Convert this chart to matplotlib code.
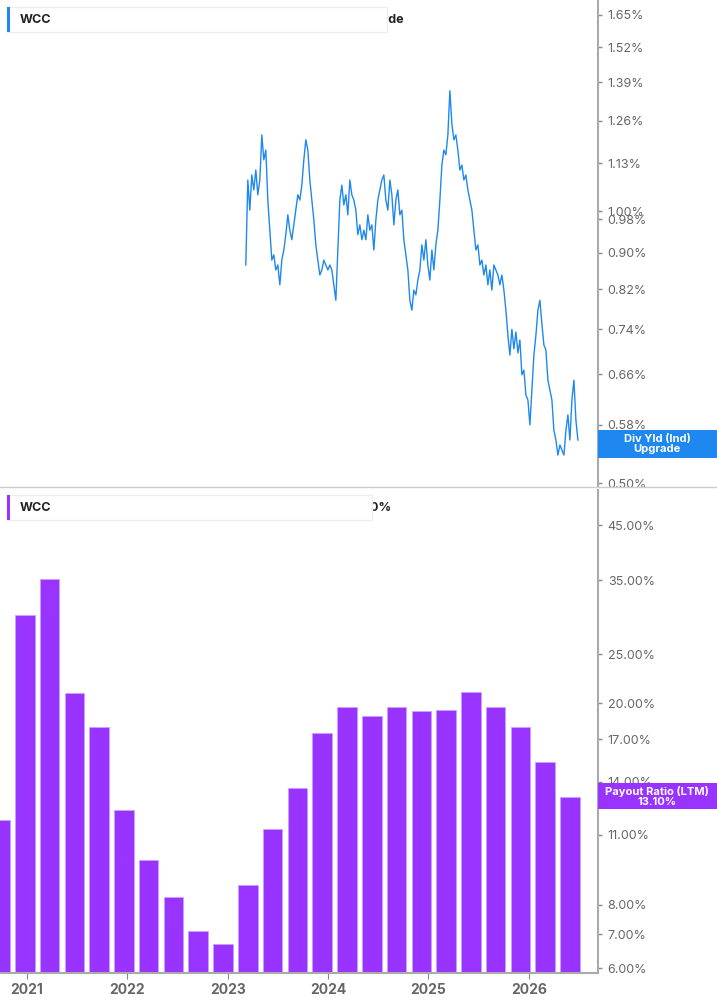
import numpy as np
import matplotlib.pyplot as plt
from matplotlib.ticker import FixedLocator, NullLocator

plt.rcParams['font.family'] = ['Inter', 'DejaVu Sans']

# dividend yield (%), roughly evenly spaced trading samples from 2023.18 to 2026.49
div_start, div_end = 2023.18, 2026.49
div_yield = [
    0.872, 1.083, 1.003, 1.097, 1.056, 1.111, 1.043, 1.083, 1.215, 1.140,
    1.169, 1.029, 0.953, 0.883, 0.895, 0.861, 0.872, 0.829, 0.883, 0.906,
    0.942, 0.991, 0.953, 0.930, 0.966, 1.003, 1.043, 1.029, 1.069, 1.140,
    1.200, 1.169, 1.083, 1.029, 0.978, 0.918, 0.883, 0.850, 0.861, 0.883,
    0.872, 0.861, 0.872, 0.861, 0.829, 0.797, 0.906, 1.029, 1.069, 1.016,
    1.043, 0.991, 1.083, 1.043, 1.029, 1.003, 0.942, 0.966, 0.930, 0.953,
    0.930, 0.991, 0.953, 0.966, 0.906, 0.978, 1.029, 1.056, 1.083, 1.097,
    1.029, 1.003, 1.083, 1.043, 0.966, 1.029, 1.056, 0.991, 1.003, 0.930,
    0.895, 0.861, 0.797, 0.777, 0.818, 0.808, 0.839, 0.861, 0.918, 0.883,
    0.930, 0.872, 0.839, 0.906, 0.861, 0.918, 0.953, 1.029, 1.125, 1.169,
    1.155, 1.215, 1.360, 1.250, 1.200, 1.215, 1.169, 1.111, 1.125, 1.083,
    1.097, 1.056, 1.029, 1.003, 0.953, 0.906, 0.918, 0.872, 0.883, 0.850,
    0.872, 0.829, 0.861, 0.818, 0.872, 0.861, 0.850, 0.829, 0.850, 0.818,
    0.777, 0.729, 0.693, 0.740, 0.704, 0.735, 0.697, 0.720, 0.659, 0.667,
    0.626, 0.618, 0.580, 0.634, 0.693, 0.729, 0.777, 0.797, 0.750, 0.711,
    0.702, 0.650, 0.634, 0.618, 0.572, 0.558, 0.537, 0.551, 0.544, 0.537,
    0.572, 0.595, 0.558, 0.618, 0.650, 0.587, 0.558,
]

# payout ratio (LTM, %), quarterly
payout_x = [2020.73 + 0.247 * i for i in range(24)]
payout = [11.8, 29.9, 35.3, 21.0, 18.0, 12.3, 9.8, 8.3, 7.1, 6.7, 8.75, 11.3,
          13.6, 17.5, 19.7, 18.9, 19.7, 19.3, 19.4, 21.1, 19.7, 18.0, 15.3, 13.1]

years = [2021, 2022, 2023, 2024, 2025, 2026]
top_ticks = [0.50, 0.58, 0.66, 0.74, 0.82, 0.90, 0.98, 1.00, 1.13, 1.26, 1.39, 1.52, 1.65]
bot_ticks = [6, 7, 8, 11, 14, 17, 20, 25, 35, 45]

blue = '#1e88f0'
purple = '#9933ff'
grey = '#666666'

fig = plt.figure(figsize=(7.17, 10.05), dpi=100)
ax1 = fig.add_axes([0, 0.5154, 0.834, 0.4846])
ax2 = fig.add_axes([0, 0.0318, 0.834, 0.4806])

xlim = (2020.73, 2026.69)


def style(ax, ticks):
    ax.set_yscale('log')
    ax.yaxis.tick_right()
    ax.yaxis.set_major_locator(FixedLocator(ticks))
    ax.yaxis.set_minor_locator(NullLocator())
    ax.set_yticklabels(['%.2f%%' % t for t in ticks])
    ax.tick_params(axis='y', length=3, width=1, colors='#888888', labelcolor=grey, labelsize=9, pad=4)
    for s in ['top', 'left', 'bottom']:
        ax.spines[s].set_visible(False)
    ax.spines['right'].set_color('#aaaaaa')
    ax.spines['right'].set_linewidth(1.5)
    ax.set_xlim(*xlim)


dx = np.linspace(div_start, div_end, len(div_yield))
ax1.plot(dx, div_yield, color=blue, linewidth=1)
style(ax1, top_ticks)
ax1.set_ylim(0.495, 1.714)
ax1.set_xticks([])

ax2.bar(payout_x, payout, width=0.195, color=purple, edgecolor='#c9a0ff', linewidth=0.6)
style(ax2, bot_ticks)
ax2.set_ylim(5.87, 52.8)
ax2.spines['bottom'].set_visible(True)
ax2.spines['bottom'].set_color('#aaaaaa')
ax2.spines['bottom'].set_linewidth(1.5)
ax2.set_xticks(years)
ax2.set_xticklabels([str(y) for y in years])
ax2.tick_params(axis='x', length=4, colors='#888888', labelcolor=grey, labelsize=10)
for lbl in ax2.get_xticklabels():
    lbl.set_fontweight('bold')

# separator line between panels
fig.add_artist(plt.Line2D([0, 1], [1 - 487 / 1005] * 2, color='#cccccc', linewidth=1))


def header(y, color, width, parts):
    fig.patches.append(plt.Rectangle((7 / 717, y - 0.012), width / 717, 0.025, transform=fig.transFigure,
                                     facecolor='white', edgecolor='#eeeeee', linewidth=1, zorder=5))
    fig.patches.append(plt.Rectangle((7 / 717, y - 0.012), 3 / 717, 0.025, transform=fig.transFigure,
                                     facecolor=color, edgecolor='none', zorder=6))
    prev = fig.text(20 / 717, y, parts[0][0], fontsize=9, fontweight=parts[0][1], va='center',
                    color='#222222', zorder=7)
    for txt, w in parts[1:]:
        prev = fig.text(0, 0, '', zorder=7) if False else \
            plt.annotate(txt, xy=(1, 0.5), xycoords=prev, xytext=(6, 0), textcoords='offset points',
                         fontsize=9, fontweight=w, va='center', ha='left', color='#222222',
                         annotation_clip=False, zorder=7)


header(1 - 20 / 1005, blue, 380, [('WCC', 'bold'), ('WESCO International, Inc.', 'bold'),
                                  ('Dividend Yield (Ind)', 'normal'), ('Upgrade', 'bold')])
header(1 - 508 / 1005, purple, 365, [('WCC', 'bold'), ('WESCO International, Inc.', 'bold'),
                                     ('Payout Ratio (LTM)', 'normal'), ('13.10%', 'bold')])


def tag(y0, y1, color, text):
    fig.patches.append(plt.Rectangle((598 / 717, 1 - y1 / 1005), 119 / 717, (y1 - y0) / 1005,
                                     transform=fig.transFigure, facecolor=color, edgecolor='none', zorder=5))
    fig.text(657 / 717, 1 - (y0 + y1) / 2 / 1005, text, ha='center', va='center', color='white',
             fontsize=8, fontweight='bold', linespacing=1.0, zorder=6)


tag(430, 458, blue, 'Div Yld (Ind)\nUpgrade')
tag(783, 809, purple, 'Payout Ratio (LTM)\n13.10%')

fig.savefig('out.png', dpi=100)
